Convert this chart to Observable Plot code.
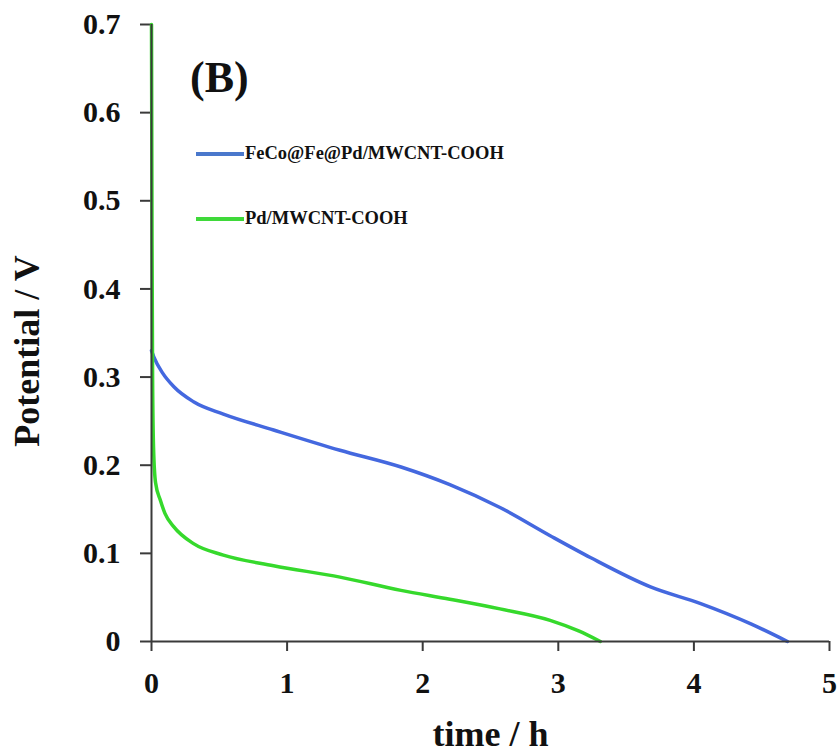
<!DOCTYPE html>
<html>
<head>
<meta charset="utf-8">
<script src="https://cdn.jsdelivr.net/npm/d3@7"></script>
<script src="https://cdn.jsdelivr.net/npm/@observablehq/plot@0.6"></script>
<style>
  html, body { margin: 0; padding: 0; background: #fff; }
  #wrap { position: relative; width: 839px; height: 753px; }
  #panel { position: absolute; left: 190px; top: 52px; font: bold 44px "Liberation Serif", serif; color: #111; }
  .leg { position: absolute; left: 196px; display: flex; align-items: center; font: bold 18.5px "Liberation Serif", serif; color: #111; }
  .leg span.sw { display: inline-block; width: 48px; height: 4px; margin-right: 1px; }
</style>
</head>
<body>
<div id="wrap"></div>
<script>
// Series names
const seriesNames = ["FeCo@Fe@Pd/MWCNT-COOH", "Pd/MWCNT-COOH"];
const seriesColors = ["#4468df", "#36d92c"];
const legendColors = ["#4a78cc", "#3fd93a"];

// FeCo@Fe@Pd/MWCNT-COOH (time h, potential V)
const blueTime = [0, 0.017, 0.08, 0.165, 0.31, 0.53, 0.9, 1.39, 1.84, 2.2, 2.57, 2.94, 3.24, 3.68, 4.05, 4.42, 4.69];
const bluePot  = [0.33, 0.323, 0.305, 0.289, 0.272, 0.258, 0.240, 0.217, 0.198, 0.178, 0.152, 0.120, 0.095, 0.062, 0.043, 0.020, 0];

// Pd/MWCNT-COOH
const greenTime = [0, 0.004, 0.008, 0.015, 0.03, 0.066, 0.1, 0.165, 0.31, 0.53, 0.9, 1.39, 1.84, 2.2, 2.57, 2.94, 3.15, 3.31];
const greenPot  = [0.70, 0.45, 0.30, 0.22, 0.18, 0.16, 0.145, 0.130, 0.111, 0.098, 0.086, 0.073, 0.058, 0.048, 0.037, 0.024, 0.012, 0];

// Ticks
const xTicks = [0, 1, 2, 3, 4, 5];
const yTicks = [0, 0.1, 0.2, 0.3, 0.4, 0.5, 0.6, 0.7];

const data = [
  ...blueTime.map((t, i) => ({t, v: bluePot[i], s: seriesNames[0]})),
  ...greenTime.map((t, i) => ({t, v: greenPot[i], s: seriesNames[1]}))
];

const axisColor = "#3a3a3a";
const font = "Liberation Serif, serif";

const chart = Plot.plot({
  width: 839,
  height: 753,
  marginLeft: 151,
  marginRight: 10,
  marginTop: 24,
  marginBottom: 112,
  style: { fontFamily: font, fontWeight: "bold", fontSize: "30px", color: "#111", background: "#fff" },
  x: { domain: [0, 5], ticks: xTicks, label: null },
  y: { domain: [0, 0.7], ticks: yTicks, label: null },
  color: { domain: seriesNames, range: seriesColors },
  marks: [
    Plot.axisX({ ticks: xTicks, tickSize: 0, tickPadding: 30, fontSize: 30, fontWeight: "bold",
      tickFormat: d => String(d),
      label: "time / h", labelAnchor: "center", labelArrow: "none", labelOffset: 104, fill: "#111" }),
    Plot.axisY({ ticks: yTicks, tickSize: 0, tickPadding: 31, fontSize: 30, fontWeight: "bold",
      tickFormat: d => d === 0 ? "0" : d.toFixed(1),
      label: "Potential / V", labelAnchor: "center", labelArrow: "none", labelOffset: 138, fill: "#111" }),
    // outward tick marks
    Plot.ruleX(xTicks, { x: d => d, y1: 0, y2: 0, insetTop: 0, insetBottom: -10, stroke: axisColor, strokeWidth: 2 }),
    Plot.ruleY(yTicks, { y: d => d, x1: 0, x2: 0, insetLeft: -11, insetRight: 0, stroke: axisColor, strokeWidth: 2 }),
    Plot.line(data, { x: "t", y: "v", z: "s", stroke: "s", strokeWidth: 3.5, curve: "monotone-x" }),
    Plot.ruleX([0], { stroke: axisColor, strokeWidth: 2 }),
    Plot.ruleY([0], { stroke: axisColor, strokeWidth: 2 })
  ]
});

// enlarge axis titles
d3.select(chart).selectAll("g[aria-label='x-axis label'] text, g[aria-label='y-axis label'] text")
  .style("font-size", "36px");
d3.select(chart).selectAll("g[aria-label='y-axis label'] text").attr("dx", -18);

const wrap = document.getElementById("wrap");
wrap.appendChild(chart);

const panel = document.createElement("div");
panel.id = "panel";
panel.textContent = "(B)";
wrap.appendChild(panel);

const legTops = [143, 208];
seriesNames.forEach((name, i) => {
  const d = document.createElement("div");
  d.className = "leg";
  d.style.top = legTops[i] + "px";
  const sw = document.createElement("span");
  sw.className = "sw";
  sw.style.background = legendColors[i];
  d.appendChild(sw);
  d.appendChild(document.createTextNode(name));
  wrap.appendChild(d);
});
</script>
</body>
</html>
